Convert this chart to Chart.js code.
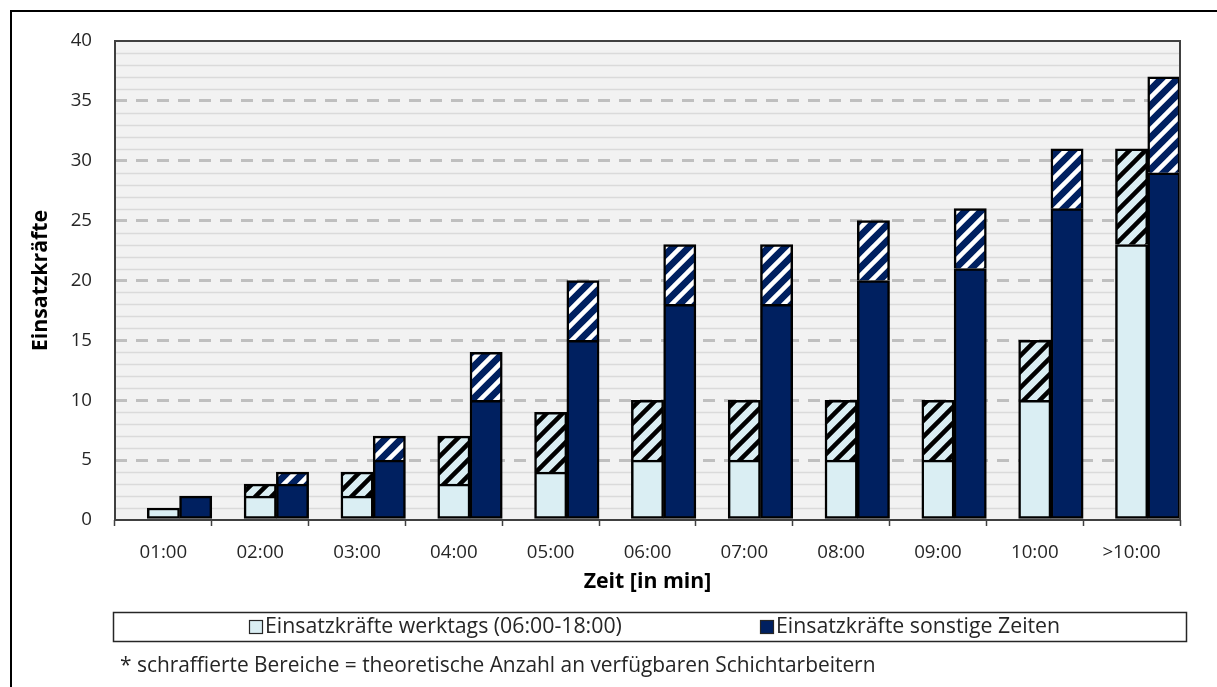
<!DOCTYPE html>
<html lang="de">
<head>
<meta charset="utf-8">
<title>Einsatzkräfte nach Zeit</title>
<script src="https://cdn.jsdelivr.net/npm/chart.js@4.4.1/dist/chart.umd.min.js"></script>
<style>
  html, body { margin: 0; padding: 0; background: #ffffff; }
  #wrap { width: 1217px; height: 687px; }
</style>
</head>
<body>
<div id="wrap"><canvas id="chart" width="1217" height="687"></canvas></div>
<script>
// Kategorien (Eintreffzeit in Minuten)
const categories = ['01:00', '02:00', '03:00', '04:00', '05:00', '06:00', '07:00', '08:00', '09:00', '10:00', '>10:00'];

// Einsatzkräfte werktags (06:00-18:00)
const werktagsBasis = [1, 2, 2, 3, 4, 5, 5, 5, 5, 10, 23];
const werktagsSchicht = [0, 1, 2, 4, 5, 5, 5, 5, 5, 5, 8];

// Einsatzkräfte sonstige Zeiten
const sonstigeBasis = [2, 3, 5, 10, 15, 18, 18, 20, 21, 26, 29];
const sonstigeSchicht = [0, 1, 2, 4, 5, 5, 5, 5, 5, 5, 8];

const yTicks = [0, 5, 10, 15, 20, 25, 30, 35, 40];
const seriesNames = ['Einsatzkräfte werktags (06:00-18:00)', 'Einsatzkräfte sonstige Zeiten'];
const footnote = '* schraffierte Bereiche = theoretische Anzahl an verfügbaren Schichtarbeitern';
const yTitle = 'Einsatzkräfte';
const xTitle = 'Zeit [in min]';

const LIGHT = '#daeef3';
const NAVY = '#002060';
const FONT = '"Open Sans", "Noto Sans", sans-serif';
const TICK_SIZE = 18.7;
const TEXT_SIZE = 21.3;
const NOTE_SIZE = 20.9;

// diagonal hatch pattern ("/") for the shift-worker share
function hatch(bg, fg) {
  const s = 16;
  const c = document.createElement('canvas');
  c.width = s; c.height = s;
  const g = c.getContext('2d');
  g.fillStyle = bg;
  g.fillRect(0, 0, s, s);
  g.strokeStyle = fg;
  g.lineWidth = 4.5;
  g.beginPath();
  for (let x = -s; x <= s; x += s) {
    g.moveTo(x - 2, s + 2);
    g.lineTo(x + s + 2, -2);
  }
  g.stroke();
  return g.createPattern(c, 'repeat');
}

const nz = arr => arr.map(v => (v === 0 ? null : v));

// plot background, outer frame and minor grid lines
const backdrop = {
  id: 'backdrop',
  beforeDraw(chart) {
    const { ctx, chartArea: a, scales: { y } } = chart;
    ctx.save();
    ctx.fillStyle = '#ffffff';
    ctx.fillRect(0, 0, chart.width, chart.height);
    ctx.strokeStyle = '#000000';
    ctx.lineWidth = 2;
    ctx.beginPath();
    ctx.moveTo(11, chart.height);
    ctx.lineTo(11, 11);
    ctx.lineTo(chart.width, 11);
    ctx.stroke();
    ctx.fillStyle = '#f2f2f2';
    ctx.fillRect(a.left, a.top, a.right - a.left, a.bottom - a.top);
    ctx.strokeStyle = '#dadada';
    ctx.lineWidth = 1.5;
    for (let v = y.min; v <= y.max; v += 1) {
      if (v % 5 === 0) continue;
      const py = Math.round(y.getPixelForValue(v)) + 0.5;
      ctx.beginPath();
      ctx.moveTo(a.left, py);
      ctx.lineTo(a.right, py);
      ctx.stroke();
    }
    ctx.restore();
  }
};

// plot frame, legend box and footnote
const frame = {
  id: 'frame',
  afterDraw(chart) {
    const { ctx, chartArea: a } = chart;
    ctx.save();
    ctx.strokeStyle = '#404040';
    ctx.lineWidth = 2;
    ctx.strokeRect(a.left, a.top, a.right - a.left, a.bottom - a.top);

    // legend
    const lx = a.left - 2, ly = 612, lw = a.right - a.left + 8, lh = 29;
    ctx.strokeStyle = '#262626';
    ctx.lineWidth = 1.5;
    ctx.strokeRect(lx + 0.5, ly + 0.5, lw, lh);
    const items = [
      { x: 249, color: LIGHT, text: seriesNames[0] },
      { x: 760, color: NAVY, text: seriesNames[1] }
    ];
    ctx.font = TEXT_SIZE + 'px ' + FONT;
    ctx.textBaseline = 'middle';
    ctx.textAlign = 'left';
    items.forEach(it => {
      ctx.fillStyle = it.color;
      ctx.fillRect(it.x, 620, 13, 13);
      ctx.strokeStyle = '#262626';
      ctx.lineWidth = 1.2;
      ctx.strokeRect(it.x + 0.5, 620.5, 13, 13);
      ctx.fillStyle = '#262626';
      ctx.fillText(it.text, it.x + 16, 627);
    });

    // footnote
    ctx.font = NOTE_SIZE + 'px ' + FONT;
    ctx.fillStyle = '#262626';
    ctx.fillText(footnote, 120, 666);
    ctx.restore();
  }
};

const common = { borderColor: '#000000', borderWidth: 2.5, categoryPercentage: 1, barPercentage: 1 };

new Chart(document.getElementById('chart'), {
  type: 'bar',
  data: {
    labels: categories,
    datasets: [
      { label: '', data: categories.map(() => null), stack: 'leer', backgroundColor: 'transparent', borderWidth: 0, categoryPercentage: 1, barPercentage: 1 },
      { ...common, label: seriesNames[0], data: nz(werktagsBasis), stack: 'werktags', backgroundColor: LIGHT, borderSkipped: false },
      { ...common, label: seriesNames[0] + ' *', data: nz(werktagsSchicht), stack: 'werktags', backgroundColor: hatch(LIGHT, '#000000'), borderSkipped: 'start' },
      { ...common, label: seriesNames[1], data: nz(sonstigeBasis), stack: 'sonstige', backgroundColor: NAVY, borderSkipped: false },
      { ...common, label: seriesNames[1] + ' *', data: nz(sonstigeSchicht), stack: 'sonstige', backgroundColor: hatch(NAVY, '#ffffff'), borderSkipped: 'start' }
    ]
  },
  options: {
    responsive: false,
    animation: false,
    events: [],
    layout: { padding: { left: 0, right: 37, top: 41, bottom: 87 } },
    plugins: { legend: { display: false }, tooltip: { enabled: false } },
    scales: {
      x: {
        stacked: true,
        grid: { offset: true, drawOnChartArea: false, drawTicks: true, tickLength: 6, tickColor: '#404040', tickWidth: 1.5 },
        border: { display: false },
        ticks: { color: '#262626', font: { family: FONT, size: TICK_SIZE }, padding: 15, maxRotation: 0, autoSkip: false },
        title: { display: true, text: xTitle, color: '#000000', font: { family: FONT, size: TEXT_SIZE, weight: 'bold' }, padding: { top: 0, bottom: 5 } },
        afterFit(scale) { scale.height = 80; }
      },
      y: {
        stacked: true,
        min: 0,
        max: 40,
        afterBuildTicks(scale) { scale.ticks = yTicks.map(v => ({ value: v })); },
        grid: {
          drawTicks: false,
          lineWidth: 3,
          color: ctx => (ctx.tick && (ctx.tick.value === 0 || ctx.tick.value === 40) ? 'rgba(0,0,0,0)' : '#bfbfbf')
        },
        border: { display: false, dash: [12, 9] },
        ticks: { color: '#262626', font: { family: FONT, size: TICK_SIZE }, padding: 23 },
        title: { display: true, text: yTitle, color: '#000000', font: { family: FONT, size: TEXT_SIZE, weight: 'bold' }, padding: { top: 28, bottom: 0 } },
        afterFit(scale) { scale.width = 115; }
      }
    }
  },
  plugins: [backdrop, frame]
});
</script>
</body>
</html>
